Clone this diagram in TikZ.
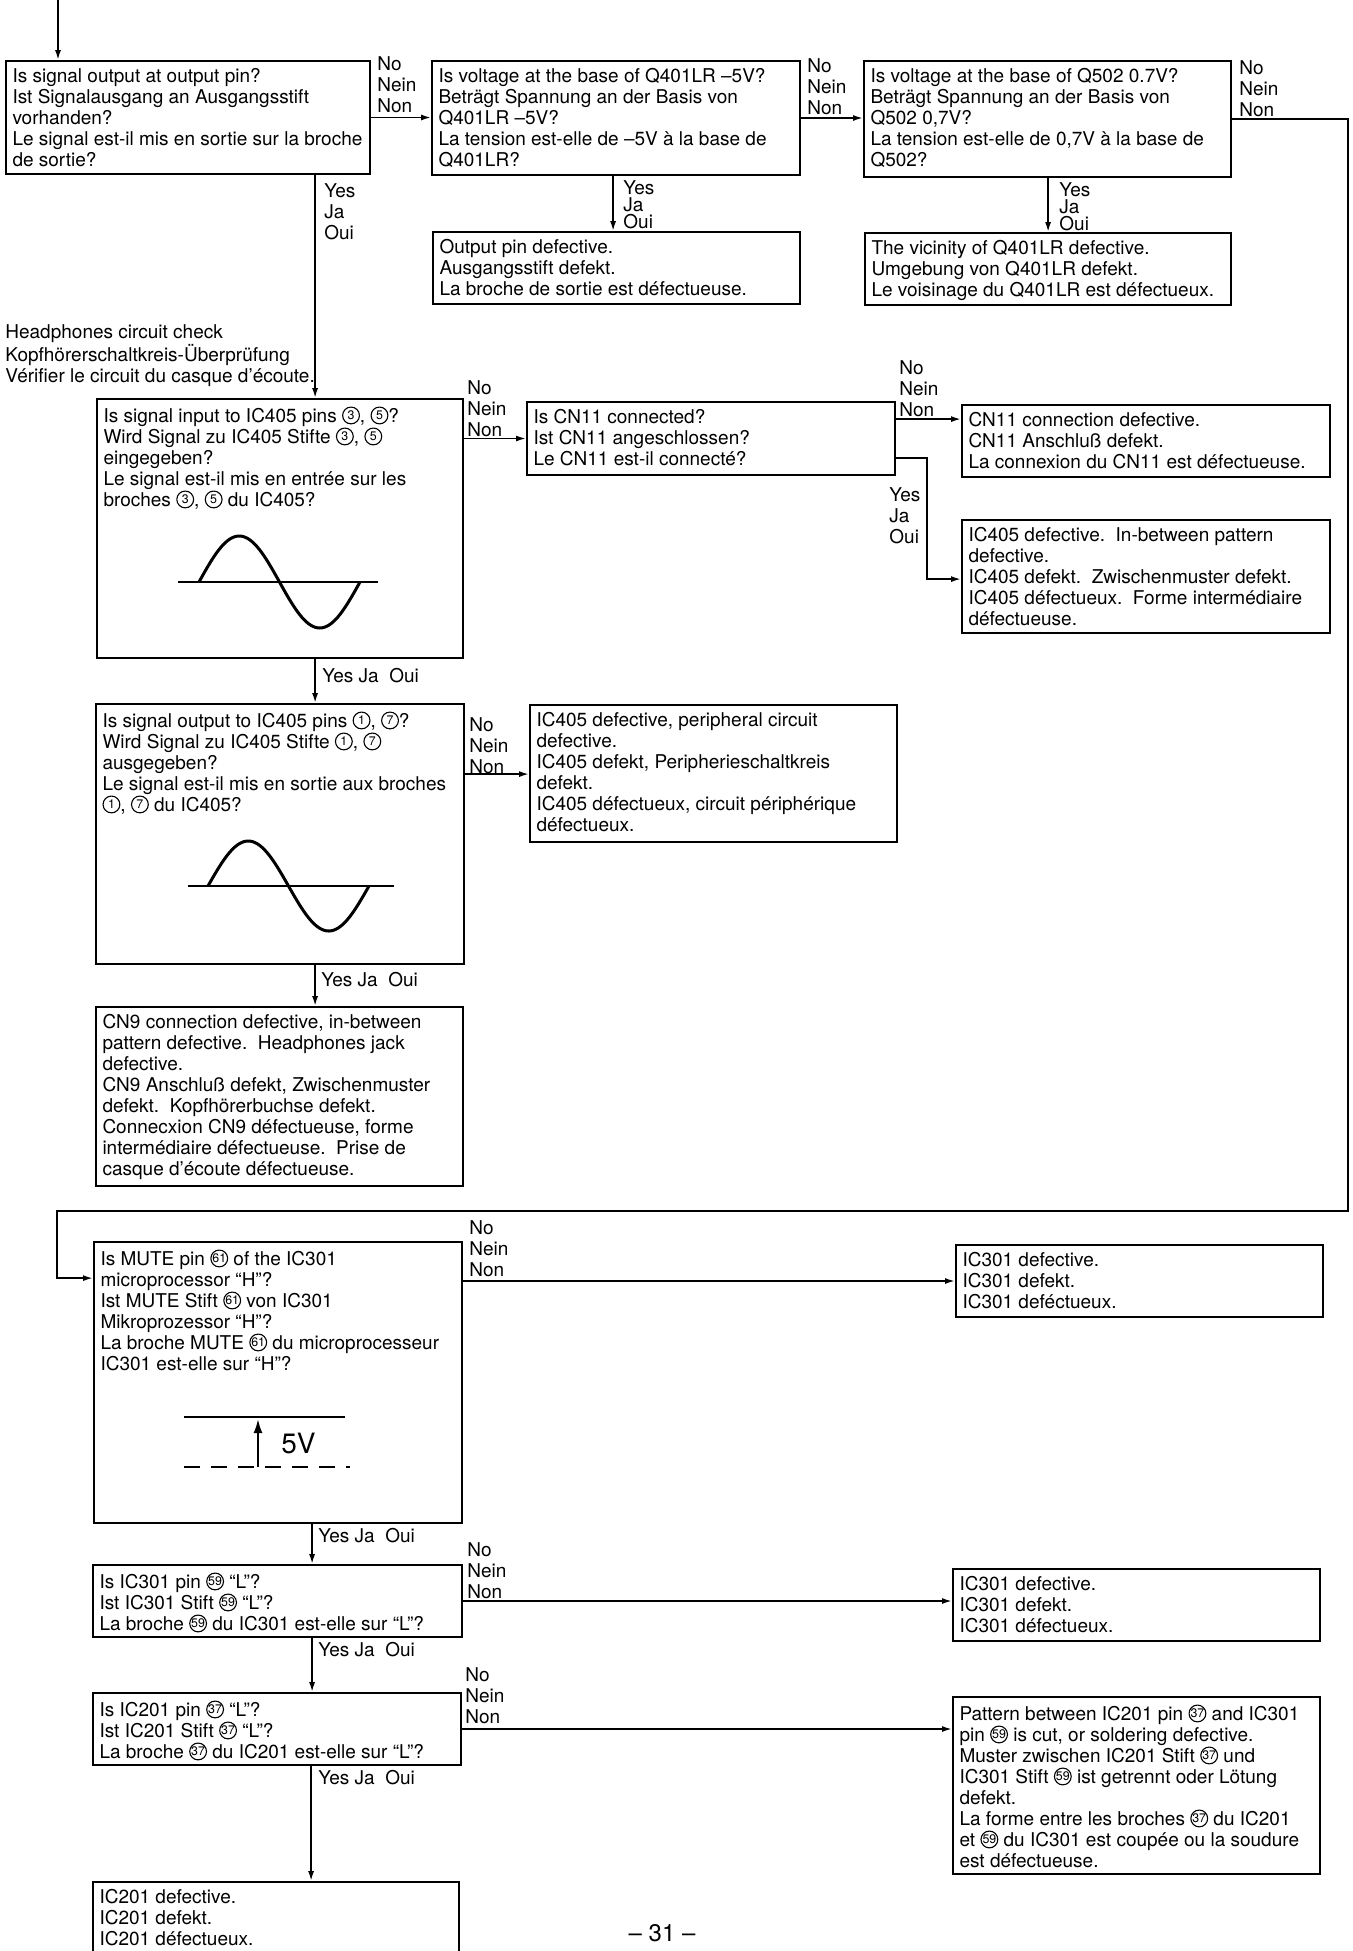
\documentclass[tikz,border=0pt]{standalone}
\usepackage{fontspec}
\setmainfont{TeX Gyre Heros}
\usetikzlibrary{arrows.meta,fit}
\newcommand\cnum[1]{\tikz[baseline={([yshift=-3.4pt]cn.center)}]\node[draw,circle,line width=0.55pt,inner sep=0pt,minimum size=8.4pt,font=\fontsize{6.2}{6.2}\selectfont](cn){#1};}
\tikzset{
  box/.style={draw,line width=0.9pt,inner sep=0pt,rectangle},
  txt/.style={anchor=north west,inner sep=0pt,align=left,font=\fontsize{9.5}{10.5}\selectfont},
  tight/.style={anchor=north west,inner sep=0pt,align=left,font=\fontsize{9.5}{8.5}\selectfont},
  arr/.style={line width=0.9pt,-{Latex[length=5pt,width=3pt]}},
  axisline/.style={line width=1pt},
  wave/.style={line width=1.5pt},
}
\begin{document}
\begin{tikzpicture}[x=0.5pt,y=-0.5pt]
\useasboundingbox (0,0) rectangle (1353,1951);
\clip (0,0) rectangle (1353,1951);
\fill[white] (0,0) rectangle (1353,1951);

% ---------- top row ----------
\node[box,fit={(6,61)(370,174)}] (b1) {};
\node[txt] (t1) at ([shift={(7,8)}]b1.north west) {Is signal output at output pin?\\Ist Signalausgang an Ausgangsstift\\vorhanden?\\Le signal est-il mis en sortie sur la broche\\de sortie?};
\node[box,fit={(432,61)(800,175)}] (b2) {};
\node[txt] (t2) at ([shift={(7,8)}]b2.north west) {Is voltage at the base of Q401LR –5V?\\Beträgt Spannung an der Basis von\\Q401LR –5V?\\La tension est-elle de –5V à la base de\\Q401LR?};
\node[box,fit={(864,61)(1231,177)}] (b3) {};
\node[txt] (t3) at ([shift={(7,8)}]b3.north west) {Is voltage at the base of Q502 0.7V?\\Beträgt Spannung an der Basis von\\Q502 0,7V?\\La tension est-elle de 0,7V à la base de\\Q502?};
\node[box,fit={(433,232)(800,304)}] (b2y) {};
\node[txt] (t2y) at ([shift={(7,8)}]b2y.north west) {Output pin defective.\\Ausgangsstift defekt.\\La broche de sortie est défectueuse.};
\node[box,fit={(865,233)(1231,305)}] (b3y) {};
\node[txt] (t3y) at ([shift={(7,8)}]b3y.north west) {The vicinity of Q401LR defective.\\Umgebung von Q401LR defekt.\\Le voisinage du Q401LR est défectueux.};

\node[txt] (l1n) at (377,56) {No\\Nein\\Non};
\node[txt] (l1y) at (324,183) {Yes\\Ja\\Oui};
\node[txt] (l2n) at (807,58) {No\\Nein\\Non};
\node[tight] (l2y) at (623,180) {Yes\\Ja\\Oui};
\node[txt] (l3n) at (1239,60) {No\\Nein\\Non};
\node[tight] (l3y) at (1059,182) {Yes\\Ja\\Oui};

% ---------- headphones section ----------
\node[txt] (hp) at (5,324) {Headphones circuit check\\Kopfhörerschaltkreis-Überprüfung\\Vérifier le circuit du casque d’écoute.};

\node[box,fit={(97,399)(463,658)}] (b4) {};
\node[txt] (t4) at ([shift={(7,8)}]b4.north west) {Is signal input to IC405 pins \cnum{3}, \cnum{5}?\\Wird Signal zu IC405 Stifte \cnum{3}, \cnum{5}\\eingegeben?\\Le signal est-il mis en entrée sur les\\broches \cnum{3}, \cnum{5} du IC405?};
\draw[axisline] (178,582) -- (378,582);
\draw[wave] plot[domain=0:360,samples=73,smooth] ({199+0.4472*\x},{582-46*sin(\x)});

\node[box,fit={(527,402)(895,475)}] (b5) {};
\node[txt] (t5) at ([shift={(7,8)}]b5.north west) {Is CN11 connected?\\Ist CN11 angeschlossen?\\Le CN11 est-il connecté?};
\node[box,fit={(962,405)(1330,477)}] (b6) {};
\node[txt] (t6) at ([shift={(7,8)}]b6.north west) {CN11 connection defective.\\CN11 Anschluß defekt.\\La connexion du CN11 est défectueuse.};
\node[box,fit={(962,520)(1330,633)}] (b7) {};
\node[txt] (t7) at ([shift={(7,8)}]b7.north west) {IC405 defective.\ \ In-between pattern\\defective.\\IC405 defekt.\ \ Zwischenmuster defekt.\\IC405 défectueux.\ \ Forme intermédiaire\\défectueuse.};

\node[txt] (l4n) at (467,380) {No\\Nein\\Non};
\node[txt] (l4y) at (322,668) {Yes Ja\ \ Oui};
\node[txt] (l5n) at (899,360) {No\\Nein\\Non};
\node[txt] (l5y) at (889,487) {Yes\\Ja\\Oui};

\node[box,fit={(96,704)(464,964)}] (b8) {};
\node[txt] (t8) at ([shift={(7,8)}]b8.north west) {Is signal output to IC405 pins \cnum{1}, \cnum{7}?\\Wird Signal zu IC405 Stifte \cnum{1}, \cnum{7}\\ausgegeben?\\Le signal est-il mis en sortie aux broches\\\cnum{1}, \cnum{7} du IC405?};
\draw[axisline] (188,886) -- (394,886);
\draw[wave] plot[domain=0:360,samples=73,smooth] ({208+0.4472*\x},{886-45*sin(\x)});

\node[box,fit={(530,705)(897,842)}] (b9) {};
\node[txt] (t9) at ([shift={(7,8)}]b9.north west) {IC405 defective, peripheral circuit\\defective.\\IC405 defekt, Peripherieschaltkreis\\defekt.\\IC405 défectueux, circuit périphérique\\défectueux.};
\node[txt] (l8n) at (469,717) {No\\Nein\\Non};
\node[txt] (l8y) at (321,972) {Yes Ja\ \ Oui};

\node[box,fit={(96,1007)(463,1186)}] (b10) {};
\node[txt] (t10) at ([shift={(7,8)}]b10.north west) {CN9 connection defective, in-between\\pattern defective.\ \ Headphones jack\\defective.\\CN9 Anschluß defekt, Zwischenmuster\\defekt.\ \ Kopfhörerbuchse defekt.\\Connecxion CN9 défectueuse, forme\\intermédiaire défectueuse.\ \ Prise de\\casque d’écoute défectueuse.};

% ---------- mute section ----------
\node[box,fit={(94,1242)(462,1523)}] (b11) {};
\node[txt] (t11) at ([shift={(7,8)}]b11.north west) {Is MUTE pin \cnum{61} of the IC301\\microprocessor “H”?\\Ist MUTE Stift \cnum{61} von IC301\\Mikroprozessor “H”?\\La broche MUTE \cnum{61} du microprocesseur\\IC301 est-elle sur “H”?};
\draw[line width=1.4pt] (184,1417) -- (345,1417);
\draw[line width=1.4pt,dash pattern=on 8pt off 5.5pt] (184,1467) -- (350,1467);
\draw[line width=1pt,-{Latex[length=7pt,width=4.5pt]}] (258,1467) -- (258,1419);
\node[anchor=west,inner sep=0pt,font=\fontsize{14}{14}\selectfont] (v5) at (281,1443) {5V};

\node[box,fit={(956,1245)(1323,1317)}] (b12) {};
\node[txt] (t12) at ([shift={(7,8)}]b12.north west) {IC301 defective.\\IC301 defekt.\\IC301 deféctueux.};
\node[txt] (l11n) at (469,1220) {No\\Nein\\Non};
\node[txt] (l11y) at (318,1528) {Yes Ja\ \ Oui};

\node[box,fit={(93,1565)(462,1637)}] (b13) {};
\node[txt] (t13) at ([shift={(7,8)}]b13.north west) {Is IC301 pin \cnum{59} “L”?\\Ist IC301 Stift \cnum{59} “L”?\\La broche \cnum{59} du IC301 est-elle sur “L”?};
\node[box,fit={(953,1569)(1320,1641)}] (b14) {};
\node[txt] (t14) at ([shift={(7,8)}]b14.north west) {IC301 defective.\\IC301 defekt.\\IC301 défectueux.};
\node[txt] (l13n) at (467,1542) {No\\Nein\\Non};
\node[txt] (l13y) at (318,1642) {Yes Ja\ \ Oui};

\node[box,fit={(93,1693)(461,1765)}] (b15) {};
\node[txt] (t15) at ([shift={(7,8)}]b15.north west) {Is IC201 pin \cnum{37} “L”?\\Ist IC201 Stift \cnum{37} “L”?\\La broche \cnum{37} du IC201 est-elle sur “L”?};
\node[box,fit={(953,1697)(1320,1874)}] (b16) {};
\node[txt] (t16) at ([shift={(7,8)}]b16.north west) {Pattern between IC201 pin \cnum{37} and IC301\\pin \cnum{59} is cut, or soldering defective.\\Muster zwischen IC201 Stift \cnum{37} und\\IC301 Stift \cnum{59} ist getrennt oder Lötung\\defekt.\\La forme entre les broches \cnum{37} du IC201\\et \cnum{59} du IC301 est coupée ou la soudure\\est défectueuse.};
\node[txt] (l15n) at (465,1667) {No\\Nein\\Non};
\node[txt] (l15y) at (318,1770) {Yes Ja\ \ Oui};

\node[box,fit={(93,1882)(459,1962)}] (b17) {};
\node[txt] (t17) at ([shift={(7,8)}]b17.north west) {IC201 defective.\\IC201 defekt.\\IC201 défectueux.};

\node[anchor=north,inner sep=0pt,font=\fontsize{12}{12}\selectfont] (pg) at (662,1924) {– 31 –};

% ---------- connectors ----------
\coordinate (start) at (58,0);
\draw[arr] (start) -- (start |- b1.north);
\draw[arr] (b1.east) -- (b1.east -| b2.west);
\draw[arr] (b2.east) -- (b2.east -| b3.west);
\coordinate (y2) at ([shift={(181,0)}]b2y.north west);
\draw[arr] (b2.south -| y2) -- (y2);
\coordinate (y3) at ([shift={(184,0)}]b3y.north west);
\draw[arr] (b3.south -| y3) -- (y3);
\coordinate (y1) at ([shift={(219,0)}]b4.north west);
\draw[arr] (b1.south -| y1) -- (y1);
\draw[arr] (b4.east |- b5.west) -- (b5.west);
\draw[arr] ([shift={(0,18)}]b5.north east) -- ([shift={(0,15)}]b6.north west);
\draw[arr] ([shift={(0,-18)}]b5.south east) -- ++(31,0) |- ([shift={(0,60)}]b7.north west);
\coordinate (y4) at ([shift={(220,0)}]b8.north west);
\draw[arr] (b4.south -| y4) -- (y4);
\draw[arr] ([shift={(0,71)}]b8.north east) -- ([shift={(0,70)}]b9.north west);
\coordinate (y8) at ([shift={(220,0)}]b10.north west);
\draw[arr] (b8.south -| y8) -- (y8);
\coordinate (lpR) at (1348,1211);
\coordinate (lpL) at (57,1211);
\draw[arr] (b3.east) -| (lpR) -- (lpL) |- ([shift={(0,37)}]b11.north west);
\draw[arr] (b11.east |- b12.west) -- (b12.west);
\coordinate (y11) at ([shift={(220,0)}]b13.north west);
\draw[arr] (b11.south -| y11) -- (y11);
\draw[arr] (b13.east) -- (b13.east -| b14.west);
\coordinate (y13) at ([shift={(220,0)}]b15.north west);
\draw[arr] (b13.south -| y13) -- (y13);
\draw[arr] (b15.east) -- (b15.east -| b16.west);
\coordinate (y15) at ([shift={(219,0)}]b17.north west);
\draw[arr] (b15.south -| y15) -- (y15);
\end{tikzpicture}
\end{document}
